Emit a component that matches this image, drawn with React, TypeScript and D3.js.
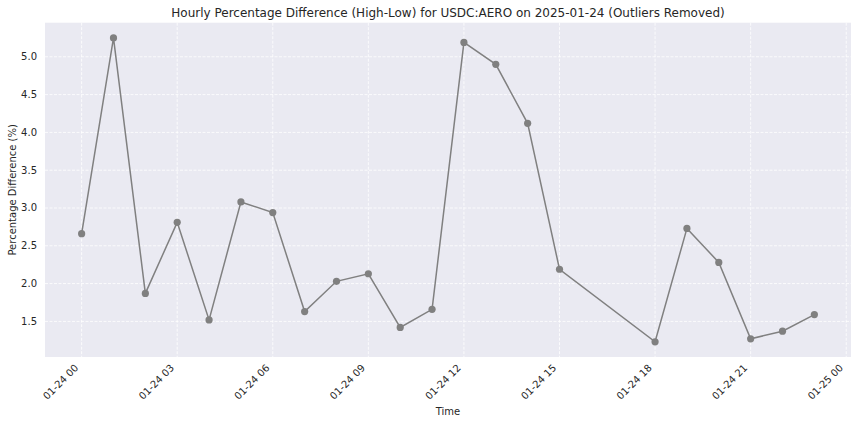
import React from "react";
import * as d3 from "d3";

const timestamps = [
  "2025-01-24T00:00Z", "2025-01-24T01:00Z", "2025-01-24T02:00Z", "2025-01-24T03:00Z",
  "2025-01-24T04:00Z", "2025-01-24T05:00Z", "2025-01-24T06:00Z", "2025-01-24T07:00Z",
  "2025-01-24T08:00Z", "2025-01-24T09:00Z", "2025-01-24T10:00Z", "2025-01-24T11:00Z",
  "2025-01-24T12:00Z", "2025-01-24T13:00Z", "2025-01-24T14:00Z", "2025-01-24T15:00Z",
  "2025-01-24T18:00Z", "2025-01-24T19:00Z", "2025-01-24T20:00Z", "2025-01-24T21:00Z",
  "2025-01-24T22:00Z", "2025-01-24T23:00Z",
];
const pctDiff = [
  2.66, 5.25, 1.87, 2.81, 1.52, 3.08, 2.94, 1.63, 2.03, 2.13, 1.42,
  1.66, 5.19, 4.90, 4.12, 2.19, 1.23, 2.73, 2.28, 1.27, 1.37, 1.59,
];
const yTicks = [1.5, 2.0, 2.5, 3.0, 3.5, 4.0, 4.5, 5.0];
const xTickStrings = [
  "2025-01-24T00:00Z", "2025-01-24T03:00Z", "2025-01-24T06:00Z", "2025-01-24T09:00Z",
  "2025-01-24T12:00Z", "2025-01-24T15:00Z", "2025-01-24T18:00Z", "2025-01-24T21:00Z",
  "2025-01-25T00:00Z",
];
const title = "Hourly Percentage Difference (High-Low) for USDC:AERO on 2025-01-24 (Outliers Removed)";

const W = 856, H = 424;
const left = 45, right = 851, top = 22.7, bottom = 357;
const font = "'DejaVu Sans', sans-serif";
const textColor = "#262626";

export default function App() {
  const dates = timestamps.map((s) => new Date(s));
  const data = dates.map((d, i) => ({ d, v: pctDiff[i] }));
  const tMin = dates[0].getTime(), tMax = dates[dates.length - 1].getTime();
  const tPad = (tMax - tMin) * 0.05;
  const vMin = d3.min(pctDiff)!, vMax = d3.max(pctDiff)!;
  const vPad = (vMax - vMin) * 0.05;
  const x = d3.scaleUtc().domain([new Date(tMin - tPad), new Date(tMax + tPad)]).range([left, right]);
  const y = d3.scaleLinear().domain([vMin - vPad, vMax + vPad]).range([bottom, top]);
  const fmt = d3.utcFormat("%m-%d %H");
  const xTicks = xTickStrings.map((s) => new Date(s));
  const line = d3.line<{ d: Date; v: number }>().x((p) => x(p.d)).y((p) => y(p.v));

  return (
    <svg width={W} height={H} style={{ position: "absolute", left: 0, top: 0, background: "#fff" }}>
      <rect x={left} y={top} width={right - left} height={bottom - top} fill="#EAEAF2" />
      {xTicks.map((t, i) => (
        <line key={"gx" + i} x1={x(t)} x2={x(t)} y1={top} y2={bottom} stroke="#fff" strokeWidth={0.8} strokeDasharray="3,1.5" />
      ))}
      {yTicks.map((t, i) => (
        <line key={"gy" + i} x1={left} x2={right} y1={y(t)} y2={y(t)} stroke="#fff" strokeWidth={0.8} strokeDasharray="3,1.5" />
      ))}
      <path d={line(data) || ""} fill="none" stroke="#808080" strokeWidth={1.5} />
      {data.map((p, i) => (
        <circle key={"c" + i} cx={x(p.d)} cy={y(p.v)} r={3.6} fill="#808080" />
      ))}
      {yTicks.map((t, i) => (
        <text key={"ty" + i} x={left - 8} y={y(t)} dy="0.35em" textAnchor="end" fontSize={10} fontFamily={font} fill={textColor}>
          {t.toFixed(1)}
        </text>
      ))}
      {xTicks.map((t, i) => (
        <text key={"tx" + i} transform={`translate(${x(t) - 5},${bottom + 9}) rotate(-45)`} dy="0.35em" textAnchor="end" fontSize={10} fontFamily={font} fill={textColor}>
          {fmt(t)}
        </text>
      ))}
      <text x={(left + right) / 2} y={415} textAnchor="middle" fontSize={10} fontFamily={font} fill={textColor}>Time</text>
      <text transform={`translate(16,${(top + bottom) / 2}) rotate(-90)`} textAnchor="middle" fontSize={10} fontFamily={font} fill={textColor}>
        Percentage Difference (%)
      </text>
      <text x={(left + right) / 2} y={17} textAnchor="middle" fontSize={12} fontFamily={font} fill={textColor}>{title}</text>
    </svg>
  );
}
